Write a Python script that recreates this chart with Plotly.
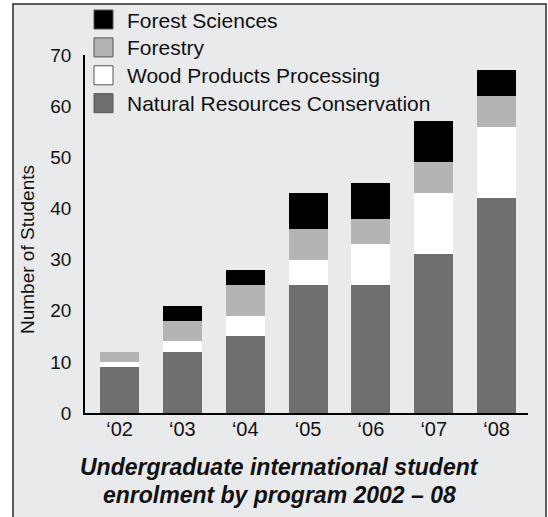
import plotly.graph_objects as go

# ---- data ----
years = ["‘02", "‘03", "‘04", "‘05", "‘06", "‘07", "‘08"]
natural_resources = [9, 12, 15, 25, 25, 31, 42]
wood_products = [1, 2, 4, 5, 8, 12, 14]
forestry = [2, 4, 6, 6, 5, 6, 6]
forest_sciences = [0, 3, 3, 7, 7, 8, 5]

series_names = ["Natural Resources Conservation", "Wood Products Processing",
                "Forestry", "Forest Sciences"]
series_values = [natural_resources, wood_products, forestry, forest_sciences]
series_colors = ["#6d6e70", "#ffffff", "#b3b4b6", "#000000"]

y_ticks = [0, 10, 20, 30, 40, 50, 60, 70]
title_lines = ["Undergraduate international student", "enrolment by program 2002 – 08"]
y_title = "Number of Students"

# ---- layout geometry (pixels) ----
W, H = 548, 517
L, R, T, B = 85, 20, 55, 104
PW = W - L - R
PH = H - T - B
FONT = "Liberation Sans, Arial, Helvetica, sans-serif"


def px(x):
    return (x - L) / PW


def py(y):
    return (H - B - y) / PH


fig = go.Figure()
for name, vals, col in zip(series_names, series_values, series_colors):
    fig.add_trace(go.Bar(x=years, y=vals, name=name, marker_color=col,
                         marker_line_width=0, width=0.62, showlegend=False))

shapes = []
annotations = []

# panel background
shapes.append(dict(type="rect", xref="paper", yref="paper", layer="below",
                   x0=px(13), x1=px(546), y0=py(540), y1=py(4),
                   fillcolor="#e9eaec", line=dict(color="#2a2a2a", width=1.5)))

# manual legend (top to bottom: reverse stack order)
leg_order = list(zip(series_names, series_colors))[::-1]
for i, (name, col) in enumerate(leg_order):
    cy = 19.5 + i * 27.9
    shapes.append(dict(type="rect", xref="paper", yref="paper",
                       x0=px(94), x1=px(113), y0=py(cy + 9.5), y1=py(cy - 9.5),
                       fillcolor=col, line=dict(color="#555555", width=1)))
    annotations.append(dict(xref="paper", yref="paper", x=px(125), y=py(cy + 0.5),
                            xanchor="left", yanchor="middle", showarrow=False,
                            text=name, font=dict(family=FONT, size=21, color="#111111")))

# title (two centred lines)
for j, line in enumerate(title_lines):
    annotations.append(dict(xref="paper", yref="paper", x=px(279.5), y=py(467 + 27.5 * j),
                            xanchor="center", yanchor="middle", showarrow=False,
                            text="<b><i>" + line + "</i></b>",
                            font=dict(family=FONT, size=23, color="#111111")))

# y-axis title
annotations.append(dict(xref="paper", yref="paper", x=px(28), y=py(250),
                        xanchor="center", yanchor="middle", showarrow=False,
                        textangle=-90, text=y_title,
                        font=dict(family=FONT, size=19, color="#111111")))

fig.update_layout(
    width=W, height=H, barmode="stack",
    margin=dict(l=L, r=R, t=T, b=B, pad=0),
    paper_bgcolor="#ffffff", plot_bgcolor="rgba(0,0,0,0)",
    font=dict(family=FONT, size=19, color="#111111"),
    shapes=shapes, annotations=annotations,
    xaxis=dict(range=[-0.55, 6.5], showgrid=False, zeroline=False,
               showline=True, linecolor="#000000", linewidth=1.5,
               ticks="", tickfont=dict(size=20), ticklabelstandoff=-3,
               fixedrange=True),
    yaxis=dict(range=[0, 70], tickvals=y_ticks, showgrid=False, zeroline=False,
               showline=True, linecolor="#000000", linewidth=1.5,
               ticks="", tickfont=dict(size=19), ticklabelstandoff=8,
               fixedrange=True),
)

fig.write_html("out.html", config={"displayModeBar": False},
               post_script="document.body.style.margin='0';")
